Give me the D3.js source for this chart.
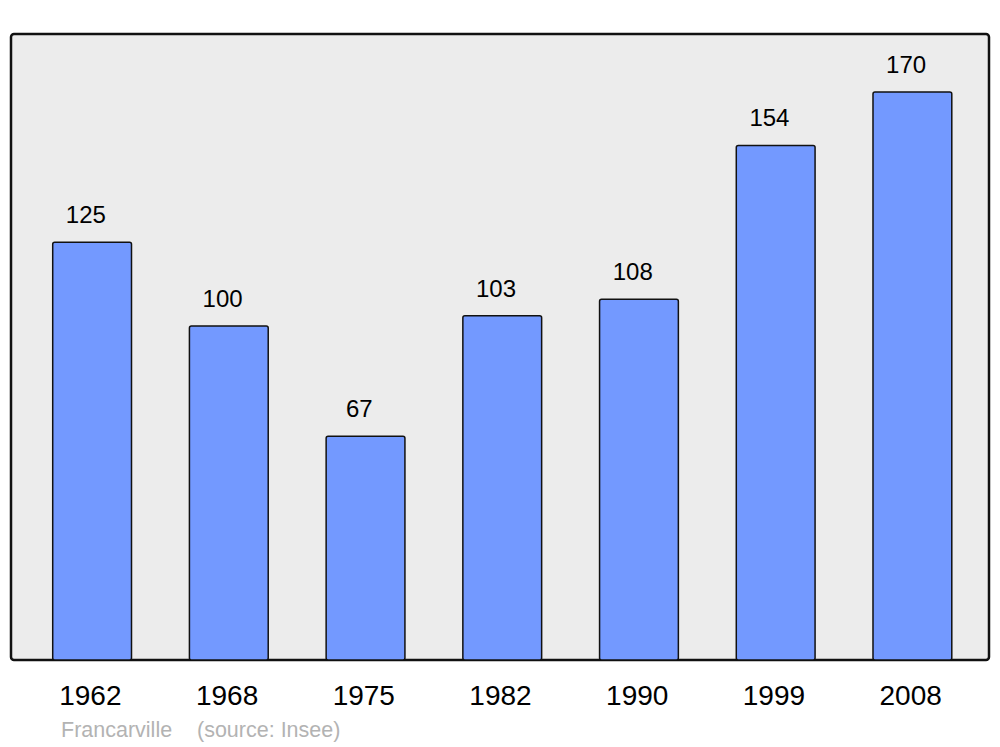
<!DOCTYPE html>
<html>
<head>
<meta charset="utf-8">
<script src="https://cdn.jsdelivr.net/npm/d3@7"></script>
<style>
  body { margin: 0; background: #fff; }
  svg { display: block; font-family: "Liberation Sans", Arial, sans-serif; }
</style>
</head>
<body>
<svg id="chart" width="1000" height="747"></svg>
<script>
// data
const years = ["1962", "1968", "1975", "1982", "1990", "1999", "2008"];
const population = [125, 100, 67, 103, 108, 154, 170];
const place = "Francarville";
const source = "(source: Insee)";

const svg = d3.select("#chart");

// frame box
const frame = { left: 11, top: 34, right: 989, bottom: 660 };

svg.append("rect")
  .attr("x", frame.left)
  .attr("y", frame.top)
  .attr("width", frame.right - frame.left)
  .attr("height", frame.bottom - frame.top)
  .attr("rx", 3)
  .attr("fill", "#ececec")
  .attr("stroke", "#111")
  .attr("stroke-width", 2.5);

const x = d3.scaleBand()
  .domain(years)
  .range([24, 981])
  .paddingInner(0.42)
  .paddingOuter(0.21);

const y = d3.scaleLinear()
  .domain([0, 170])
  .range([frame.bottom, 92]);

const data = years.map((yr, i) => ({ year: yr, value: population[i] }));

// bars
svg.selectAll("rect.bar")
  .data(data)
  .enter()
  .append("rect")
  .attr("class", "bar")
  .attr("x", d => x(d.year))
  .attr("y", d => y(d.value))
  .attr("width", x.bandwidth() - 0.5)
  .attr("height", d => y(0) - y(d.value))
  .attr("rx", 2)
  .attr("fill", "#7399ff")
  .attr("stroke", "#111")
  .attr("stroke-width", 1.5);

// value labels
svg.selectAll("text.val")
  .data(data)
  .enter()
  .append("text")
  .attr("class", "val")
  .attr("x", d => x(d.year) + x.bandwidth() / 2 - 6.5)
  .attr("y", d => y(d.value) - 19)
  .attr("text-anchor", "middle")
  .attr("font-size", 24)
  .attr("fill", "#000")
  .text(d => d.value);

// year labels
svg.selectAll("text.year")
  .data(years)
  .enter()
  .append("text")
  .attr("class", "year")
  .attr("x", d => x(d) + x.bandwidth() / 2 - 2)
  .attr("y", 705)
  .attr("text-anchor", "middle")
  .attr("font-size", 28)
  .attr("fill", "#000")
  .text(d => d);

// footer
svg.append("text")
  .attr("x", 61)
  .attr("y", 737)
  .attr("font-size", 21.5)
  .attr("fill", "#b3b3b3")
  .text(place);

svg.append("text")
  .attr("x", 197)
  .attr("y", 737)
  .attr("font-size", 21.5)
  .attr("fill", "#b3b3b3")
  .text(source);
</script>
</body>
</html>
